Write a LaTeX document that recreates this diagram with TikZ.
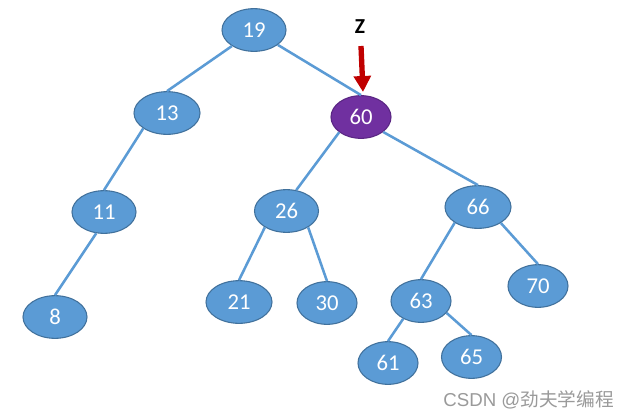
\documentclass[tikz,border=0pt]{standalone}
\usepackage{fontspec}
\setmainfont{Carlito}
\newfontfamily\wmfont{Liberation Sans}
\newfontfamily\cjkfont{Noto Sans CJK SC}
\usetikzlibrary{shapes.geometric,arrows.meta}
\definecolor{nodeblue}{HTML}{5B9BD5}
\definecolor{nodeedge}{HTML}{41719C}
\definecolor{zpurple}{HTML}{7030A0}
\definecolor{zpurpleedge}{HTML}{5A2683}
\definecolor{zred}{HTML}{C00000}
\definecolor{wmgray}{HTML}{9A9A9A}
\tikzset{
  treenode/.style={ellipse, fill=nodeblue, draw=nodeedge, line width=0.8pt,
    minimum width=48pt, minimum height=32pt, inner sep=0pt,
    text=white, font=\fontsize{17}{17}\selectfont},
  narrow/.style={minimum width=45pt},
  wide/.style={minimum width=49.5pt},
  hot/.style={fill=zpurple, draw=zpurpleedge},
  link/.style={draw=nodeblue, line width=1.9pt},
  zarrow/.style={draw=zred, line width=4pt, -{Triangle[width=12.5pt,length=12pt]}},
}
\begin{document}
\begin{tikzpicture}[x=0.75pt,y=-0.75pt]
\path[fill=white] (0,0) rectangle (622,419);
\useasboundingbox (0,0) rectangle (622,419);

\node[treenode] (n19) at (254,30) {19};
\node[treenode,wide] (n13) at (167,113) {13};
\node[treenode,narrow,hot] (n60) at (361,117) {60};
\node[treenode] (n11) at (104,212) {11};
\node[treenode] (n26) at (286.5,211) {26};
\node[treenode,wide] (n66) at (478,207) {66};
\node[treenode] (n8) at (55,317) {8};
\node[treenode,wide] (n21) at (239,302) {21};
\node[treenode,narrow] (n30) at (327,303) {30};
\node[treenode,narrow] (n63) at (421,301) {63};
\node[treenode,narrow] (n70) at (538,286) {70};
\node[treenode,narrow] (n61) at (388,363) {61};
\node[treenode,narrow] (n65) at (471.5,357) {65};

\draw[link] (n19.216) -- (n13.north);
\draw[link] (n19.-32) -- (n60.north);
\draw[link] (n13.213) -- (n11.north);
\draw[link] (n11.250) -- (n8.north);
\draw[link] (n60.215) -- (n26.65);
\draw[link] (n60.-34) -- (n66.north);
\draw[link] (n26.217) -- (n21.north);
\draw[link] (n26.-37) -- (n30.north);
\draw[link] (n66.214) -- (n63.north);
\draw[link] (n66.-35) -- (n70.north);
\draw[link] (n63.225) -- (n61.north);
\draw[link] (n63.-25) -- (n65.north);

\node[font=\bfseries\fontsize{16}{16}\selectfont] (zl) at (360,27) {Z};
\coordinate (ztop) at (361,46);
\coordinate (ztip) at (363,92);
\draw[zarrow] (ztop) -- (ztip);

\node[anchor=east, text=wmgray, inner sep=0pt] (wm) at (614,400)
  {\wmfont\fontsize{14}{14}\selectfont CSDN @\cjkfont 劲夫学编程};
\end{tikzpicture}
\end{document}
